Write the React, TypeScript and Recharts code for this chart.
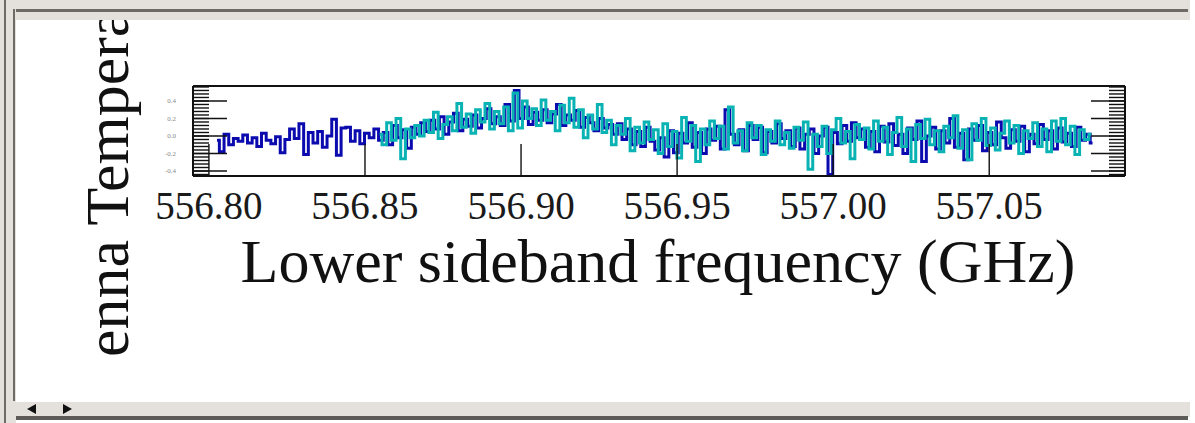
import { LineChart, Line, XAxis, YAxis } from "recharts";

// plot window (GHz / K)
const FREQ_MIN = 556.7949;
const FREQ_MAX = 557.0935;
const TEMP_MIN = -0.457;
const TEMP_MAX = 0.571;

const CHANNEL_WIDTH = 0.0015; // GHz per channel

// dark blue spectrum
const BLUE_START = 556.8026;
const BLUE_VALUES = [
  -0.05, -0.18, 0.02, -0.1, -0.03,
  -0.06, 0.01, -0.08, -0.02, -0.12, 0.03, -0.05, -0.09, -0.01, -0.19, -0.04,
  0.08, -0.03, 0.14, -0.21,
  0.04, -0.08, 0.05, -0.13, 0.0,
  0.19, -0.22, 0.09,
  0.1, -0.06, 0.06, -0.09, 0.03, -0.02, 0.08, -0.05,
  0.04, -0.1, 0.12, -0.02,
  0.07, -0.14, 0.1, 0.02, 0.15,
  0.05, 0.18, 0.08, 0.22, 0.02,
  0.16, 0.26, 0.06, 0.19, 0.11,
  0.24, 0.09, 0.2, 0.31, 0.14,
  0.22, 0.12, 0.36, 0.17, 0.52,
  0.2, 0.33, 0.13, 0.27, 0.18,
  0.3, 0.15, 0.25, 0.36, 0.12,
  0.24, 0.18, 0.29, 0.1, 0.21,
  0.15, 0.06, 0.2, 0.09, 0.13,
  0.02, 0.14, -0.04, 0.08, -0.1,
  0.05, -0.12, 0.1, -0.06, -0.16,
  -0.02, -0.24, 0.06, -0.19, 0.03,
  -0.08, 0.15, -0.13, 0.04, -0.2,
  0.08, -0.05, 0.11, -0.15, 0.3,
  0.02, -0.1, 0.07, -0.17, 0.12,
  -0.04, 0.1, -0.19, 0.05, -0.08,
  0.14, -0.03, 0.06, -0.12, 0.09,
  -0.15, 0.02, 0.08, -0.2, 0.0,
  0.1, -0.44, 0.04, -0.09, 0.12,
  -0.06, 0.15, -0.02, 0.08, -0.13,
  0.05, -0.18, 0.11, -0.07, 0.14,
  -0.11, 0.02, -0.2, 0.09, -0.04,
  0.17, -0.29, 0.0, 0.1, -0.15,
  0.06, -0.08, 0.2, -0.13, 0.03,
  -0.27, 0.08, -0.05, 0.12, -0.17,
  0.04, -0.1, 0.16, -0.02, -0.14,
  0.07, -0.06, 0.11, -0.18, 0.02,
  -0.09, 0.13, -0.04, 0.06, -0.15,
  0.09, -0.07, 0.03, -0.12, 0.1,
  -0.05, 0.02, -0.08,
];

// cyan spectrum
const CYAN_START = 556.8547;
const CYAN_VALUES = [
  0.02, -0.1, 0.15, -0.05, 0.2,
  -0.26, 0.08, -0.02, 0.12, 0.0,
  0.18, 0.04, 0.27, -0.03, 0.13,
  0.22, 0.06, 0.37, 0.1, 0.25,
  0.03, 0.3, 0.16, 0.37, 0.08,
  0.28, 0.14, 0.33, 0.06, 0.49,
  0.09, 0.4, 0.2, 0.31, 0.12,
  0.41, 0.18, 0.28, 0.06, 0.35,
  0.15, 0.43, 0.1, 0.3, -0.02,
  0.24, 0.08, 0.36, 0.04, 0.18,
  -0.1, 0.12, 0.02, 0.2, -0.17,
  0.1, -0.08, 0.16, -0.04, 0.07,
  -0.2, 0.14, -0.12, 0.05, -0.25,
  0.21, -0.06, 0.12, -0.29, 0.08,
  -0.1, 0.17, -0.03, 0.11, -0.15,
  0.33, -0.08, 0.06, -0.17, 0.15,
  -0.02, 0.12, -0.21, 0.07, -0.06,
  0.17, -0.1, 0.04, -0.14, 0.1,
  -0.05, 0.16, -0.38, 0.02, -0.12,
  0.11, -0.2, 0.07, 0.2, -0.08,
  0.05, -0.26, 0.13, -0.04, 0.09,
  -0.15, 0.17, -0.06, 0.1, -0.21,
  0.04, 0.21, -0.12, 0.08, -0.29,
  0.13, -0.03, 0.19, -0.1, 0.06,
  -0.18, 0.11, -0.02, 0.23, -0.14,
  0.07, -0.27, 0.14, -0.05, 0.2,
  -0.11, 0.09, -0.16, 0.03, 0.17,
  -0.08, 0.12, -0.2, 0.06, -0.03,
  0.15, -0.12, 0.08, -0.18, 0.17,
  -0.06, 0.2, -0.1, 0.11, -0.21,
  0.07, -0.04, 0.02,
];

const FREQ_LABEL_TICKS = [556.8, 556.85, 556.9, 556.95, 557.0, 557.05];
const FREQ_MINOR_TICKS = [
  556.8, 556.81, 556.82, 556.83, 556.84, 556.85, 556.86, 556.87, 556.88, 556.89,
  556.9, 556.91, 556.92, 556.93, 556.94, 556.95, 556.96, 556.97, 556.98, 556.99,
  557.0, 557.01, 557.02, 557.03, 557.04, 557.05, 557.06, 557.07, 557.08, 557.09,
];
const TEMP_LABEL_TICKS = [-0.4, -0.2, 0, 0.2, 0.4];
const TEMP_MINOR_TICKS = [
  -0.44, -0.4, -0.36, -0.32, -0.28, -0.24, -0.2, -0.16, -0.12, -0.08, -0.04,
  0, 0.04, 0.08, 0.12, 0.16, 0.2, 0.24, 0.28, 0.32, 0.36, 0.4, 0.44, 0.48, 0.52, 0.56,
];

const BLUE = "#0a0aae";
const CYAN = "#0ab3b3";
const CHROME = "#e4e1dc";
const CHROME_DARK = "#6c6b67";
const SERIF = "'Liberation Serif', 'Times New Roman', serif";

function toSpectrum(start: number, values: number[]) {
  return values.map((y, i) => ({ x: start + i * CHANNEL_WIDTH, y }));
}

const blueData = toSpectrum(BLUE_START, BLUE_VALUES);
const cyanData = toSpectrum(CYAN_START, CYAN_VALUES);

const tickStroke = { stroke: "#111", strokeWidth: 1.4 };
const frameStroke = { stroke: "#111", strokeWidth: 2 };

// tick marks only, no label
const NoLabel = () => <g />;

export default function App() {
  return (
    <div style={{ position: "absolute", left: 0, top: 0, width: 1195, height: 423, background: "#fff", overflow: "hidden" }}>
      <LineChart width={1195} height={423} margin={{ top: 84, right: 68, bottom: 245, left: 191 }}>
        <XAxis
          xAxisId="freq"
          type="number"
          dataKey="x"
          domain={[FREQ_MIN, FREQ_MAX]}
          allowDataOverflow
          height={1}
          ticks={FREQ_LABEL_TICKS}
          tickSize={-32}
          tickMargin={47}
          interval={0}
          tickFormatter={(v: number) => v.toFixed(2)}
          tick={{ fontSize: 39, fill: "#1a1a1a", fontFamily: SERIF }}
          axisLine={frameStroke}
          tickLine={tickStroke}
        />
        <XAxis
          xAxisId="freqMinor"
          type="number"
          domain={[FREQ_MIN, FREQ_MAX]}
          allowDataOverflow
          height={1}
          ticks={FREQ_MINOR_TICKS}
          interval={0}
          tickSize={-16}
          tick={NoLabel}
          axisLine={false}
          tickLine={tickStroke}
        />
        <XAxis
          xAxisId="freqTop"
          orientation="top"
          type="number"
          domain={[FREQ_MIN, FREQ_MAX]}
          allowDataOverflow
          height={1}
          ticks={FREQ_LABEL_TICKS}
          interval={0}
          tickSize={-32}
          tick={NoLabel}
          axisLine={frameStroke}
          tickLine={tickStroke}
        />
        <XAxis
          xAxisId="freqTopMinor"
          orientation="top"
          type="number"
          domain={[FREQ_MIN, FREQ_MAX]}
          allowDataOverflow
          height={1}
          ticks={FREQ_MINOR_TICKS}
          interval={0}
          tickSize={-16}
          tick={NoLabel}
          axisLine={false}
          tickLine={tickStroke}
        />
        <YAxis
          yAxisId="temp"
          type="number"
          domain={[TEMP_MIN, TEMP_MAX]}
          allowDataOverflow
          width={1}
          ticks={TEMP_LABEL_TICKS}
          interval={0}
          tickSize={-34}
          tickMargin={51}
          tickFormatter={(v: number) => v.toFixed(1)}
          tick={{ fontSize: 7, fill: "#8a8a8a", fontFamily: SERIF }}
          axisLine={frameStroke}
          tickLine={tickStroke}
        />
        <YAxis
          yAxisId="tempMinor"
          type="number"
          domain={[TEMP_MIN, TEMP_MAX]}
          allowDataOverflow
          width={1}
          ticks={TEMP_MINOR_TICKS}
          interval={0}
          tickSize={-17}
          tick={NoLabel}
          axisLine={false}
          tickLine={tickStroke}
        />
        <YAxis
          yAxisId="tempRight"
          orientation="right"
          type="number"
          domain={[TEMP_MIN, TEMP_MAX]}
          allowDataOverflow
          width={1}
          ticks={TEMP_LABEL_TICKS}
          interval={0}
          tickSize={-34}
          tick={NoLabel}
          axisLine={frameStroke}
          tickLine={tickStroke}
        />
        <YAxis
          yAxisId="tempRightMinor"
          orientation="right"
          type="number"
          domain={[TEMP_MIN, TEMP_MAX]}
          allowDataOverflow
          width={1}
          ticks={TEMP_MINOR_TICKS}
          interval={0}
          tickSize={-17}
          tick={NoLabel}
          axisLine={false}
          tickLine={tickStroke}
        />
        <Line
          xAxisId="freq"
          yAxisId="temp"
          data={blueData}
          dataKey="y"
          type="step"
          stroke={BLUE}
          strokeWidth={3}
          dot={false}
          isAnimationActive={false}
        />
        <Line
          xAxisId="freq"
          yAxisId="temp"
          data={cyanData}
          dataKey="y"
          type="step"
          stroke={CYAN}
          strokeWidth={3}
          dot={false}
          isAnimationActive={false}
        />
      </LineChart>

      {/* x axis title */}
      <div style={{ position: "absolute", left: 0, width: 1316, top: 226, textAlign: "center", fontFamily: SERIF, fontSize: 62, lineHeight: "70px", color: "#111", whiteSpace: "nowrap" }}>
        Lower sideband frequency (GHz)
      </div>

      {/* y axis title, clipped like in the viewer: "Ant" falls below the visible edge */}
      <div style={{ position: "absolute", left: 0, top: 0, width: 190, height: 357, overflow: "hidden" }}>
        <svg width={190} height={423}>
          <g transform="translate(128,357) rotate(-90)" fontFamily={SERIF} fontSize={62} fill="#111">
            <text textAnchor="end">Ant</text>
            <text textAnchor="start">enna Temperature (K)</text>
          </g>
        </svg>
      </div>

      {/* window chrome */}
      <div style={{ position: "absolute", left: 0, top: 0, width: 1190, height: 20, background: CHROME }} />
      <div style={{ position: "absolute", left: 14, top: 9, width: 1174, height: 3, background: CHROME_DARK }} />
      <div style={{ position: "absolute", left: 0, top: 0, width: 16, height: 423, background: CHROME }} />
      <div style={{ position: "absolute", left: 4, top: 0, width: 2, height: 423, background: CHROME_DARK }} />
      <div style={{ position: "absolute", left: 13, top: 9, width: 2, height: 392, background: CHROME_DARK }} />
      <div style={{ position: "absolute", left: 14, top: 402, width: 1176, height: 15, background: CHROME }} />
      <div style={{ position: "absolute", left: 16, top: 416, width: 1172, height: 4, background: "#5c5b57" }} />
      <div style={{ position: "absolute", left: 27, top: 404, width: 0, height: 0, borderTop: "5px solid transparent", borderBottom: "5px solid transparent", borderRight: "9px solid #111" }} />
      <div style={{ position: "absolute", left: 63, top: 404, width: 0, height: 0, borderTop: "5px solid transparent", borderBottom: "5px solid transparent", borderLeft: "9px solid #111" }} />
    </div>
  );
}
